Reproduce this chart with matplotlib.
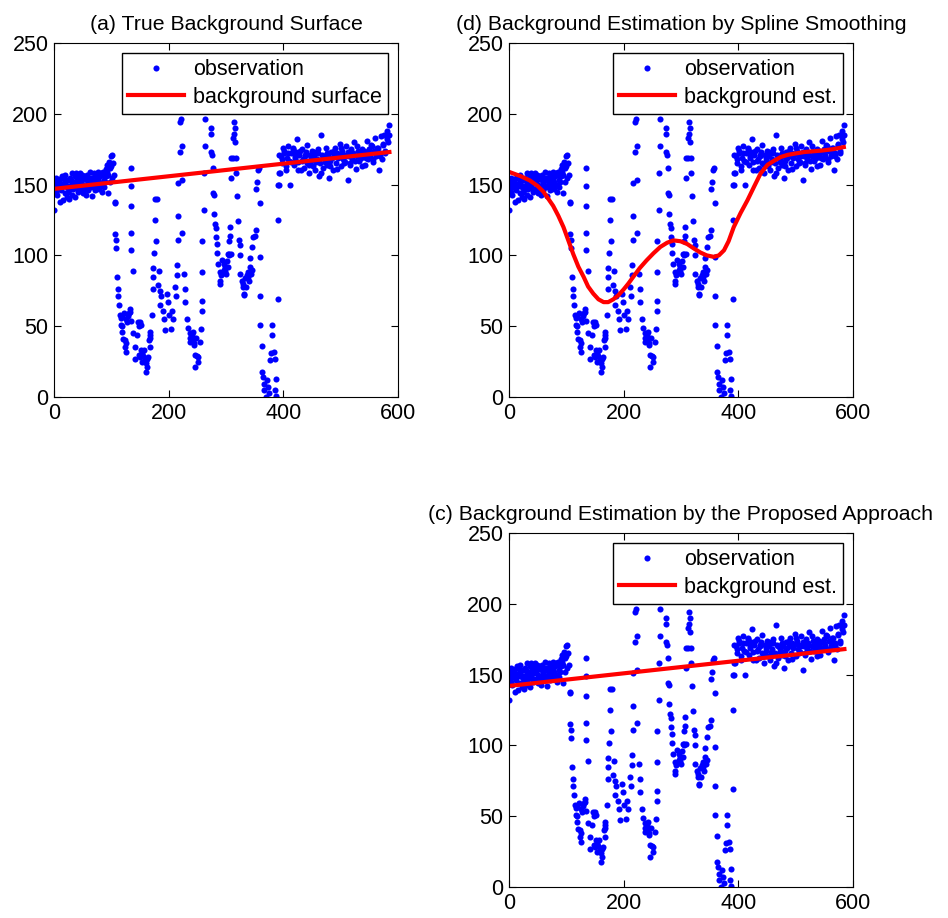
import matplotlib
matplotlib.use("Agg")
import matplotlib.pyplot as plt

plt.rcParams['font.family'] = ['Liberation Sans', 'DejaVu Sans']

left_x = [0, 1, 2, 3, 4, 5, 6, 7, 8, 10,
          11, 12, 14, 15, 16, 18, 19, 20, 22, 23,
          24, 26, 27, 28, 30, 31, 32, 34, 35, 36,
          38, 39, 40, 42, 43, 44, 46, 47, 48, 50,
          51, 52, 54, 55, 56, 58, 59, 60, 62, 63,
          64, 66, 67, 68, 70, 71, 72, 74, 75, 76,
          78, 79, 80, 82, 83, 84, 86, 87, 88, 90,
          91, 92, 94, 95, 96, 98, 99, 100, 101, 102,
          104, 106,
          9, 13, 17, 21, 25, 29, 33, 37, 41, 45,
          49, 53, 57, 61, 65, 69, 73, 77, 81, 85,
          89, 93, 97]
left_y = [132, 147, 152, 145, 155, 150, 143, 153, 148, 138,
          154, 146, 156, 149, 139, 151, 144, 157, 141, 148,
          153, 140, 146, 155, 150, 143, 158, 147, 152, 141,
          158, 149, 154, 145, 156, 151, 158, 147, 153, 144,
          150, 156, 148, 154, 143, 157, 151, 146, 159, 153,
          148, 142, 155, 150, 158, 146, 153, 156, 149, 159,
          152, 147, 156, 158, 150, 145, 159, 153, 148, 156,
          161, 164, 144, 157, 166, 152, 163, 170, 155, 171,
          157, 137,
          151, 148, 155, 150, 145, 153, 149, 156, 147, 152,
          157, 146, 153, 149, 155, 151, 147, 154, 150, 157,
          152, 159, 162]

mid_x = [107, 107, 108, 109, 110, 112, 112, 114, 115, 117,
         118, 121, 124, 126, 130, 133, 135, 138, 141, 141,
         135, 134, 135, 135, 134, 138, 147, 149, 152, 154,
         158, 161, 164, 162, 168, 168, 168, 171, 172, 173,
         172, 175, 178, 177, 176, 179, 181, 184, 185, 187,
         185, 190, 192, 194, 197, 199, 201, 204, 206, 208,
         211, 213, 214, 214, 216, 217, 219, 222, 219, 224,
         217, 224, 224, 227, 228, 229, 232, 234, 237, 238,
         242, 244, 246, 246, 251, 251, 254, 257, 258, 258,
         258, 259, 261, 262, 264, 264, 273, 273, 274, 276,
         277, 277, 279, 279, 281, 282, 283, 284, 284, 286,
         289, 289, 290, 293, 296, 298, 299, 302, 304, 306,
         307, 307, 305, 308, 309, 312, 314, 315, 314, 313,
         316, 318, 318, 320, 321, 322, 324, 324, 325, 328,
         329, 331, 332, 336, 338, 341, 342, 345, 347, 350,
         353, 353, 354, 356, 357, 359, 360, 360, 360, 363,
         363, 365, 366, 367, 369, 372, 373, 375, 376, 379,
         381, 380, 384, 385, 387, 386, 387, 390, 391, 391,
         392, 117, 119, 122, 125, 127, 129, 132, 118, 123,
         125, 145, 148, 150, 153, 155, 157, 160, 163, 165,
         167, 150, 152, 238, 240, 243, 245, 248, 250, 292,
         295, 297, 300, 303, 305, 308, 330, 333, 335, 338,
         340, 343, 345, 103]
mid_y = [138, 115, 111, 105, 85, 76, 71, 65, 58, 51,
         46, 41, 35, 32, 59, 62, 54, 45, 35, 27,
         162, 149, 135, 116, 104, 89, 53, 50, 33, 31,
         26, 18, 28, 21, 35, 42, 46, 58, 76, 85,
         91, 102, 110, 125, 140, 140, 79, 89, 75, 71,
         65, 61, 55, 47, 73, 67, 58, 48, 61, 55,
         78, 71, 93, 86, 111, 128, 194, 196, 173, 177,
         151, 153, 116, 87, 76, 67, 55, 49, 45, 39,
         46, 38, 30, 21, 28, 25, 39, 48, 61, 68,
         88, 110, 132, 158, 177, 196, 190, 186, 173, 171,
         162, 144, 143, 129, 122, 119, 113, 108, 102, 94,
         88, 82, 80, 97, 94, 92, 89, 96, 101, 101,
         120, 114, 110, 169, 155, 169, 194, 190, 186, 183,
         180, 169, 158, 142, 124, 111, 107, 100, 87, 82,
         78, 73, 72, 86, 88, 92, 98, 106, 113, 114,
         118, 147, 152, 160, 162, 137, 99, 71, 51, 36,
         18, 14, 9, 5, 0, 12, 7, 3, 26, 31,
         44, 51, 32, 27, 13, 5, 1, 69, 125, 150,
         158, 56, 57, 59, 55, 53, 57, 60, 50, 40,
         38, 44, 30, 28, 25, 29, 33, 24, 27, 40,
         44, 53, 51, 42, 44, 41, 37, 42, 29, 86,
         88, 90, 87, 92, 100, 101, 80, 84, 78, 85,
         82, 87, 90, 165]

right_x = [392, 394, 396, 398, 400, 402, 404, 406, 408, 410,
           412, 414, 416, 418, 420, 422, 424, 426, 428, 430,
           432, 434, 436, 438, 440, 442, 444, 446, 448, 450,
           452, 454, 456, 458, 460, 462, 464, 466, 468, 470,
           472, 474, 476, 478, 480, 482, 484, 486, 488, 490,
           492, 494, 496, 498, 500, 502, 504, 506, 508, 510,
           512, 514, 516, 518, 520, 522, 524, 526, 528, 530,
           532, 534, 536, 538, 540, 542, 544, 546, 548, 550,
           552, 554, 556, 558, 560, 562, 564, 566, 568, 570,
           572, 574, 576, 578, 580, 582, 584, 585,
           393, 397, 401, 405, 409, 413, 417, 421, 425, 429,
           433, 437, 441, 445, 449, 453, 457, 461, 465, 469,
           473, 477, 481, 485, 489, 493, 497, 501, 505, 509,
           513, 517, 521, 525, 529, 533, 537, 541, 545, 549,
           553, 557, 561, 565, 569, 573, 577, 581]
right_y = [150, 158, 170, 165, 176, 172, 160, 169, 177, 167,
           150, 172, 175, 164, 170, 173, 182, 166, 171, 160,
           175, 168, 162, 170, 173, 165, 158, 171, 167, 174,
           163, 170, 160, 168, 172, 156, 165, 185, 171, 162,
           168, 176, 164, 170, 155, 167, 173, 160, 170, 176,
           165, 172, 169, 179, 163, 174, 168, 171, 166, 177,
           153, 170, 165, 175, 168, 172, 180, 161, 170, 174,
           167, 172, 169, 175, 170, 164, 173, 181, 168, 175,
           171, 177, 166, 174, 183, 170, 176, 160, 172, 184,
           168, 178, 185, 172, 188, 180, 192, 185,
           171, 168, 174, 163, 172, 166, 176, 169, 160, 174,
           167, 171, 178, 164, 169, 173, 166, 175, 158, 170,
           166, 172, 163, 169, 174, 161, 171, 176, 165, 170,
           173, 164, 171, 167, 177, 170, 163, 174, 169, 172,
           178, 168, 173, 176, 170, 179, 174, 182]

obs_x = left_x + mid_x + right_x
obs_y = left_y + mid_y + right_y

# background curves
true_bg_x = [0, 585]
true_bg_y = [147, 173]

spline_x = [0, 20, 36, 50, 60, 77, 86, 95, 104, 112, 121, 130, 138, 147, 156,
            165, 173, 182, 191, 200, 208, 217, 228, 240, 252, 264, 276, 287,
            299, 311, 322, 334, 345, 357, 366, 375, 383, 392, 404, 416, 428,
            439, 451, 463, 474, 486, 500, 515, 530, 545, 565, 584]
spline_y = [159, 156, 153, 149, 145, 135, 128, 120, 110, 101, 92, 85, 78, 73,
            69, 67, 67, 69, 72, 76, 80, 85, 91, 96.5, 101.5, 106, 109, 110.6,
            110, 108, 105, 102, 100, 99, 100, 103.6, 110, 120, 130, 139, 149,
            158, 164, 167, 169.5, 171, 172, 173, 173.5, 174, 175, 176.5]

prop_bg_x = [0, 585]
prop_bg_y = [142, 168]

W, H = 948, 918
fig = plt.figure(figsize=(W / 100.0, H / 100.0), dpi=100)


def draw_panel(left, top, title, line_x, line_y, line_label):
    rect = [left / W, 1 - (top + 354) / H, 344 / W, 354 / H]
    ax = fig.add_axes(rect)
    ax.plot(obs_x, obs_y, 'o', color='blue', ms=4.4, mec='none',
            label='observation')
    ax.plot(line_x, line_y, '-', color='red', lw=3, label=line_label)
    ax.set_xlim(0, 600)
    ax.set_ylim(0, 250)
    ax.set_xticks([0, 200, 400, 600])
    ax.set_yticks([0, 50, 100, 150, 200, 250])
    ax.tick_params(direction='in', top=True, right=True, labelsize=15.5,
                   length=5, width=0.8, pad=4)
    ax.set_title(title, fontsize=15.3, pad=9)
    leg = ax.legend(loc='upper right', fontsize=15.5, fancybox=False,
                    edgecolor='black', framealpha=1, numpoints=1,
                    handlelength=2.6, handletextpad=0.4, borderaxespad=0.45,
                    labelspacing=0.3, borderpad=0.3)
    leg.get_frame().set_linewidth(1)
    return ax


draw_panel(54, 43, "(a) True Background Surface",
           true_bg_x, true_bg_y, "background surface")
draw_panel(509, 43, "(d) Background Estimation by Spline Smoothing",
           spline_x, spline_y, "background est.")
draw_panel(509, 533, "(c) Background Estimation by the Proposed Approach",
           prop_bg_x, prop_bg_y, "background est.")

plt.savefig("out.png", dpi=100)
